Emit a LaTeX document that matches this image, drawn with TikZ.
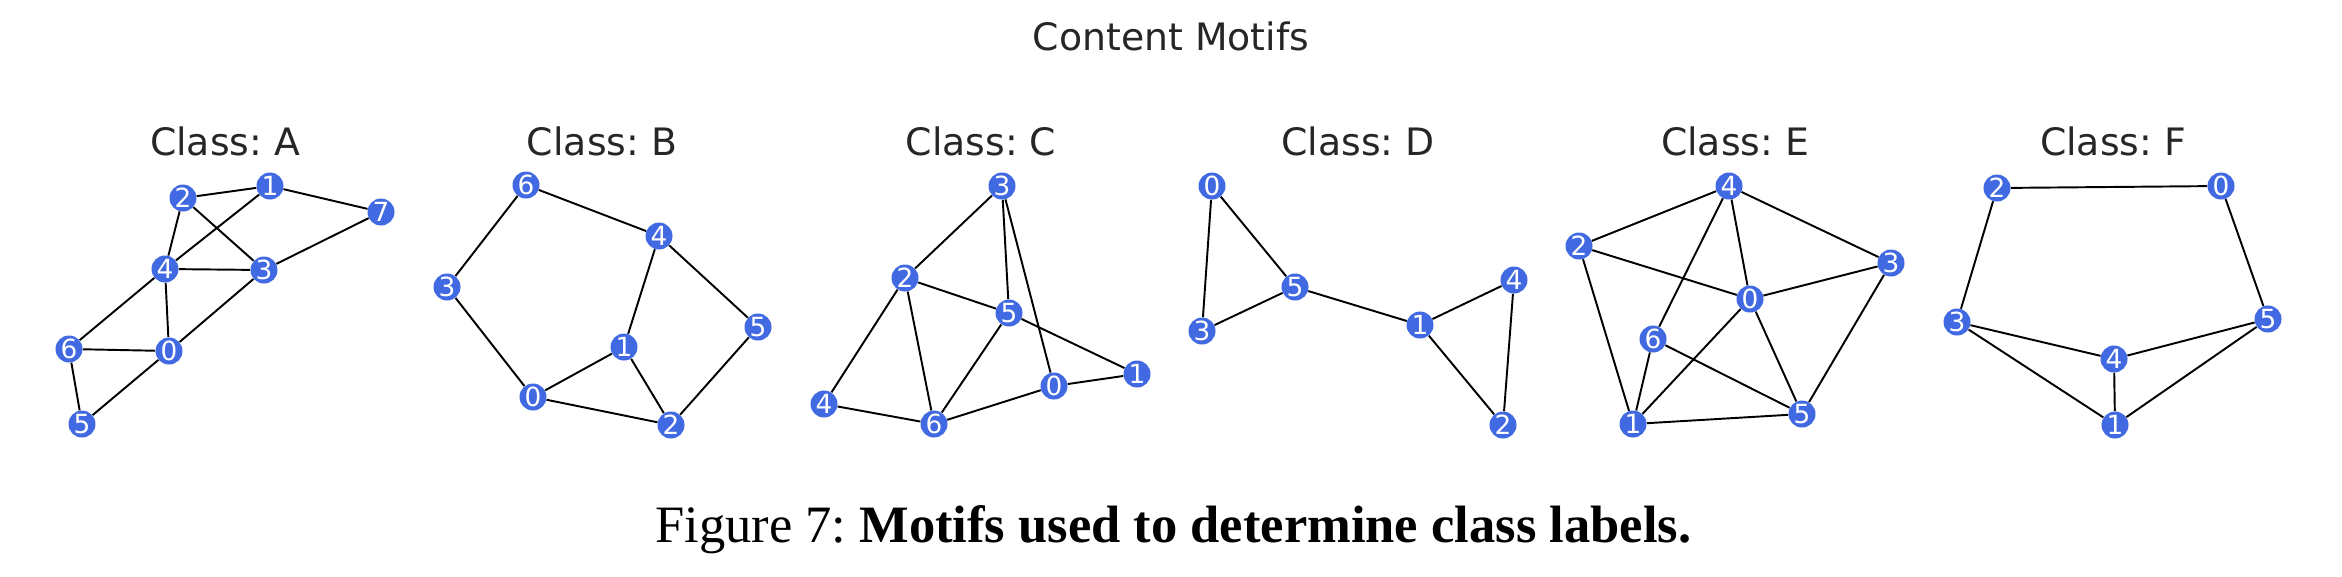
\documentclass[tikz,border=0pt]{standalone}
\usepackage{fontspec}
\setmainfont{Liberation Serif}
\newfontfamily\dejavu{DejaVu Sans}
\frenchspacing

\definecolor{royal}{HTML}{4169E1}

\tikzset{
	vtx/.style={circle, fill=royal, inner sep=0pt, minimum size=0.54cm, text=white, font=\dejavu\fontsize{15}{15}\selectfont},
	link/.style={line width=1.1pt, black},
	ttl/.style={anchor=base, text=black!85, font=\dejavu\fontsize{21.5}{21.5}\selectfont}
}

\begin{document}
\begin{tikzpicture}[x=0.02cm, y=-0.02cm]

	\useasboundingbox (0,0) rectangle (2342,576);

	\node[ttl] (main) at (1171,50.5) {Content Motifs};

	\node[ttl] (tA) at (225,155) {Class: A};
	\node[ttl] (tB) at (602,155) {Class: B};
	\node[ttl] (tC) at (981,155) {Class: C};
	\node[ttl] (tD) at (1358,155) {Class: D};
	\node[ttl] (tE) at (1735,155) {Class: E};
	\node[ttl] (tF) at (2113,155) {Class: F};

	\node[vtx] (a0) at (169,351) {0};
	\node[vtx] (a1) at (270,186) {1};
	\node[vtx] (a2) at (183,198) {2};
	\node[vtx] (a3) at (264,270) {3};
	\node[vtx] (a4) at (165,269) {4};
	\node[vtx] (a5) at (82,424) {5};
	\node[vtx] (a6) at (69,349) {6};
	\node[vtx] (a7) at (381,212) {7};
	\foreach \u/\v in {a2/a1, a1/a7, a2/a4, a2/a3, a1/a4, a4/a3, a3/a7, a4/a6, a4/a0, a3/a0, a6/a0, a6/a5, a5/a0}
		\draw[link] (\u) -- (\v);

	\node[vtx] (b0) at (533,397) {0};
	\node[vtx] (b1) at (624,347) {1};
	\node[vtx] (b2) at (671,425) {2};
	\node[vtx] (b3) at (447,287) {3};
	\node[vtx] (b4) at (659,236) {4};
	\node[vtx] (b5) at (758,327) {5};
	\node[vtx] (b6) at (526,185) {6};
	\foreach \u/\v in {b6/b3, b6/b4, b4/b1, b4/b5, b3/b0, b0/b1, b0/b2, b1/b2, b5/b2}
		\draw[link] (\u) -- (\v);

	\node[vtx] (c0) at (1054,386) {0};
	\node[vtx] (c1) at (1137,374) {1};
	\node[vtx] (c2) at (905,278) {2};
	\node[vtx] (c3) at (1002,186) {3};
	\node[vtx] (c4) at (824,404) {4};
	\node[vtx] (c5) at (1009,313) {5};
	\node[vtx] (c6) at (934,424) {6};
	\foreach \u/\v in {c3/c2, c3/c5, c3/c0, c2/c5, c2/c4, c2/c6, c5/c1, c5/c6, c0/c1, c0/c6, c4/c6}
		\draw[link] (\u) -- (\v);

	\node[vtx] (d0) at (1212,186) {0};
	\node[vtx] (d1) at (1420,325) {1};
	\node[vtx] (d2) at (1503,425) {2};
	\node[vtx] (d3) at (1202,331) {3};
	\node[vtx] (d4) at (1514,280) {4};
	\node[vtx] (d5) at (1295,287) {5};
	\foreach \u/\v in {d0/d3, d0/d5, d3/d5, d5/d1, d1/d4, d1/d2, d4/d2}
		\draw[link] (\u) -- (\v);

	\node[vtx] (e0) at (1750,299) {0};
	\node[vtx] (e1) at (1633,424) {1};
	\node[vtx] (e2) at (1579,246) {2};
	\node[vtx] (e3) at (1891,263) {3};
	\node[vtx] (e4) at (1729,186) {4};
	\node[vtx] (e5) at (1802,414) {5};
	\node[vtx] (e6) at (1653,339) {6};
	\foreach \u/\v in {e4/e2, e4/e3, e4/e0, e4/e6, e2/e0, e2/e1, e0/e3, e0/e1, e0/e5, e3/e5, e6/e1, e6/e5, e1/e5}
		\draw[link] (\u) -- (\v);

	\node[vtx] (f0) at (2221,186) {0};
	\node[vtx] (f1) at (2115,425) {1};
	\node[vtx] (f2) at (1997,188) {2};
	\node[vtx] (f3) at (1957,322) {3};
	\node[vtx] (f4) at (2114,359) {4};
	\node[vtx] (f5) at (2268,319) {5};
	\foreach \u/\v in {f2/f0, f2/f3, f0/f5, f3/f4, f3/f1, f5/f4, f5/f1, f4/f1}
		\draw[link] (\u) -- (\v);

	\node[anchor=base west, font=\fontsize{29.9}{30}\selectfont] (cap) at (649,542) {Figure 7: \textbf{Motifs used to determine class labels.}};

\end{tikzpicture}
\end{document}
